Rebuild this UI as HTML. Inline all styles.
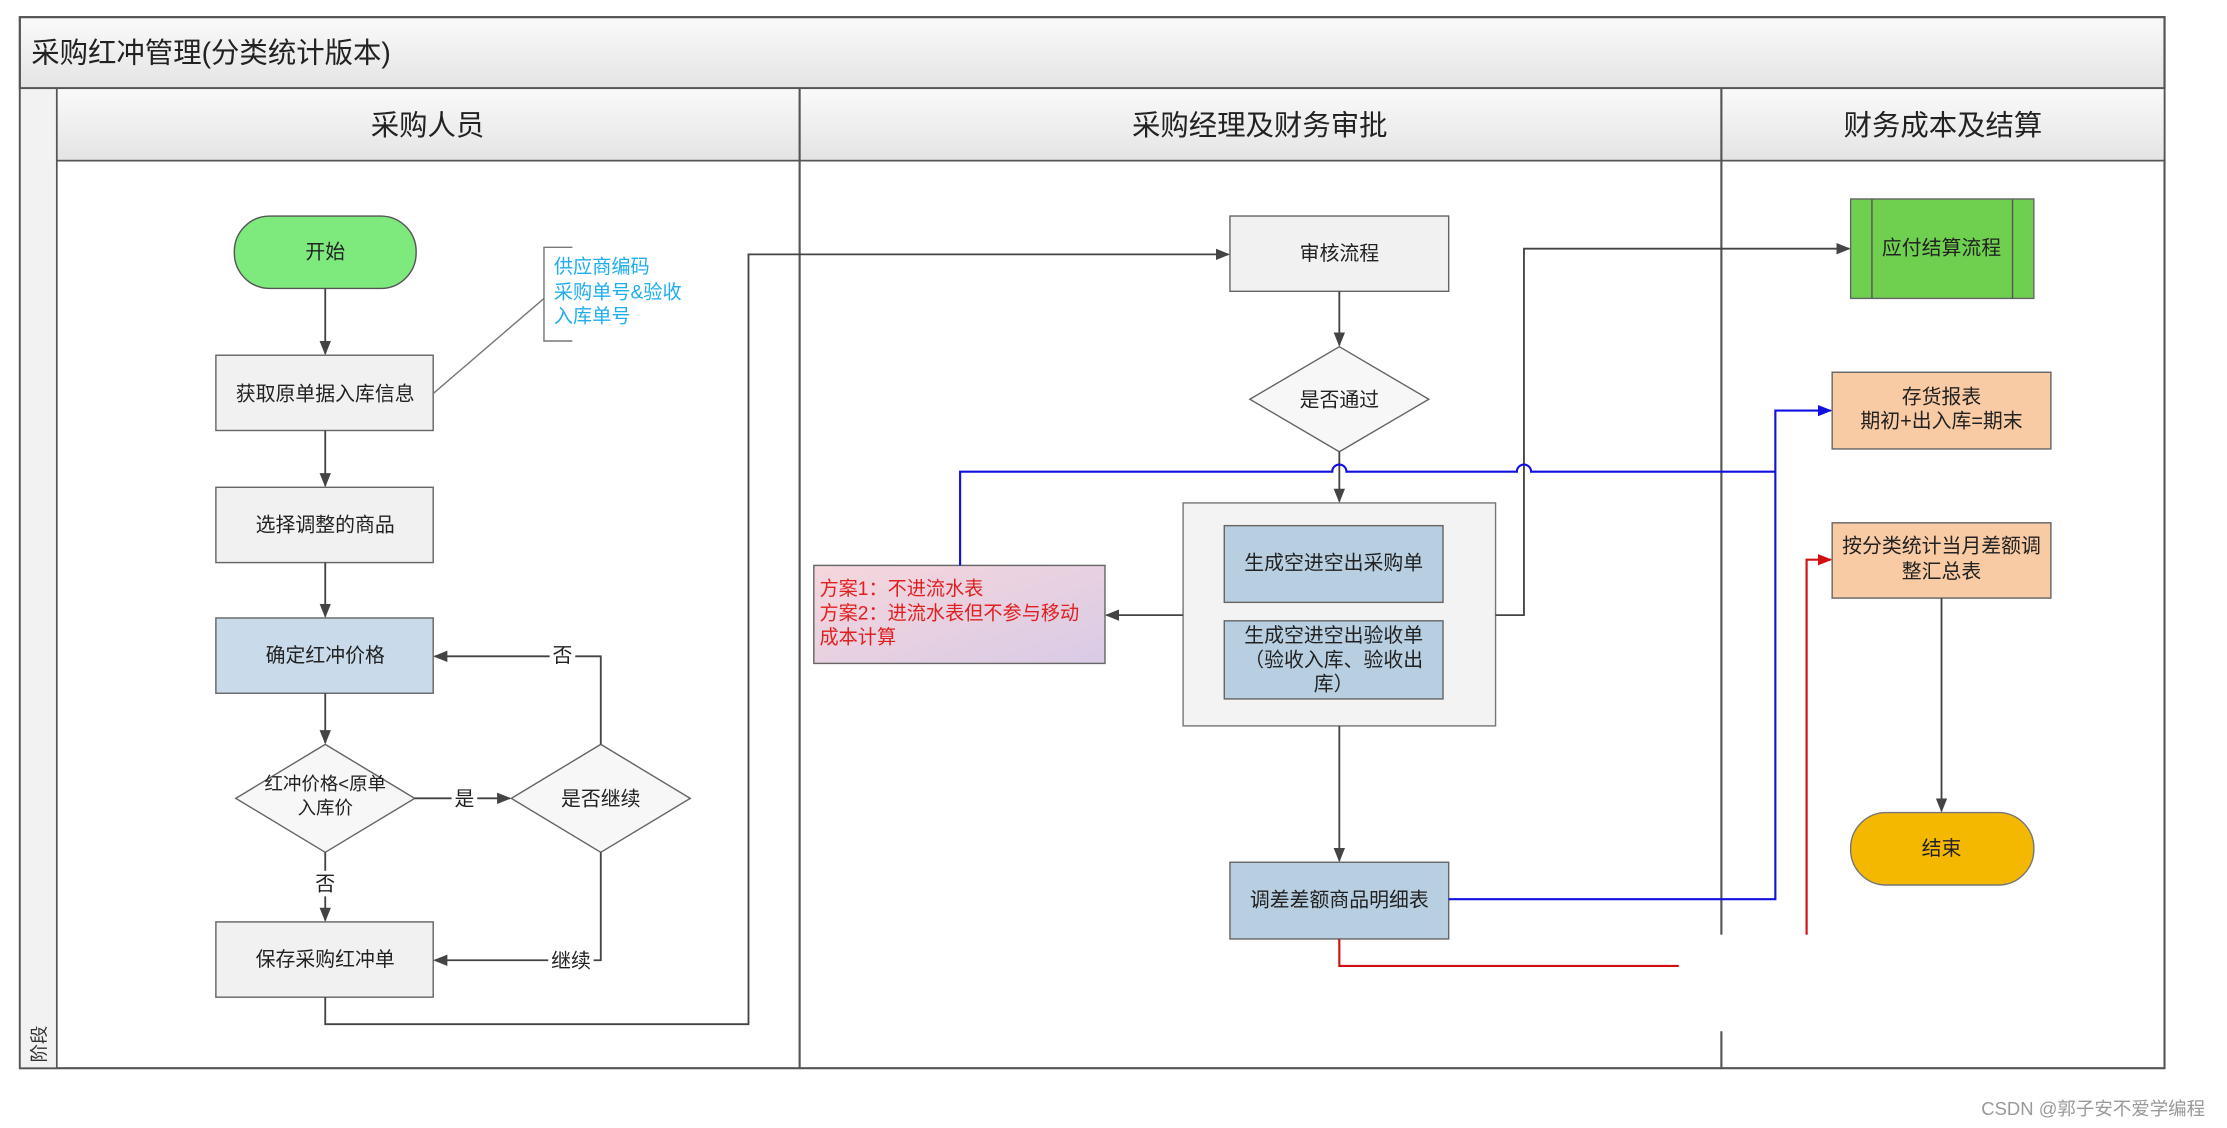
<!DOCTYPE html>
<html><head><meta charset="utf-8"><style>
html,body{margin:0;padding:0;background:#fff;width:2227px;height:1128px;overflow:hidden}
svg{display:block}
text{font-family:"Liberation Sans","Noto Sans CJK SC",sans-serif}
</style></head><body>
<svg width="2227" height="1128" viewBox="0 0 1568 794" xmlns="http://www.w3.org/2000/svg">
<defs>
<marker id="a" markerWidth="10" markerHeight="10" refX="9" refY="5" orient="auto" markerUnits="userSpaceOnUse"><path d="M0,1 L10,5 L0,9 z" fill="#444"/></marker>
<marker id="ab" markerWidth="10" markerHeight="10" refX="9" refY="5" orient="auto" markerUnits="userSpaceOnUse"><path d="M0,1 L10,5 L0,9 z" fill="#1010e0"/></marker>
<marker id="ar" markerWidth="10" markerHeight="10" refX="9" refY="5" orient="auto" markerUnits="userSpaceOnUse"><path d="M0,1 L10,5 L0,9 z" fill="#d01010"/></marker>
<linearGradient id="hg" x1="0" y1="0" x2="0" y2="1"><stop offset="0" stop-color="#fafafa"/><stop offset="1" stop-color="#e4e4e4"/></linearGradient>
<linearGradient id="pg" x1="0" y1="0" x2="1" y2="1"><stop offset="0" stop-color="#f6d6dc"/><stop offset="1" stop-color="#d9cbe6"/></linearGradient>
</defs>
<rect width="1568" height="794" fill="#fff"/>
<!-- frame -->
<rect x="14" y="12" width="1510" height="740" fill="#fff" stroke="#555" stroke-width="1.5"/>
<rect x="14" y="12" width="1510" height="50" fill="url(#hg)" stroke="#555" stroke-width="1.5"/>
<text x="22" y="44" font-size="20" fill="#222">采购红冲管理(分类统计版本)</text>
<rect x="14" y="62" width="26" height="690" fill="#f2f2f2" stroke="#555" stroke-width="1.2"/>
<text transform="translate(32,748) rotate(-90)" font-size="13" fill="#333">阶段</text>
<rect x="40" y="62" width="1484" height="51" fill="url(#hg)" stroke="#555" stroke-width="1.2"/>
<line x1="563" y1="62" x2="563" y2="752" stroke="#555" stroke-width="1.5"/>
<line x1="1212" y1="62" x2="1212" y2="752" stroke="#555" stroke-width="1.5"/>
<text x="301" y="95" font-size="20" fill="#222" text-anchor="middle">采购人员</text>
<text x="887" y="95" font-size="20" fill="#222" text-anchor="middle">采购经理及财务审批</text>
<text x="1368" y="95" font-size="20" fill="#222" text-anchor="middle">财务成本及结算</text>

<g font-size="14" fill="#222" text-anchor="middle">
<!-- left lane -->
<rect x="165" y="152" width="128" height="51" rx="25" fill="#7eea7e" stroke="#555"/>
<text x="229" y="182">开始</text>
<rect x="152" y="250" width="153" height="53" fill="#f1f1f1" stroke="#666"/>
<text x="229" y="282">获取原单据入库信息</text>
<rect x="152" y="343" width="153" height="53" fill="#f1f1f1" stroke="#666"/>
<text x="229" y="374">选择调整的商品</text>
<rect x="152" y="435" width="153" height="53" fill="#c9dbea" stroke="#666"/>
<text x="229" y="466">确定红冲价格</text>
<path d="M166,562 L229,524 L292,562 L229,600 z" fill="#f7f7f7" stroke="#666"/>
<text x="229" y="556" font-size="13">红冲价格&lt;原单</text>
<text x="229" y="573" font-size="13">入库价</text>
<path d="M360,562 L423,524 L486,562 L423,600 z" fill="#f7f7f7" stroke="#666"/>
<text x="423" y="567">是否继续</text>
<rect x="152" y="649" width="153" height="53" fill="#f1f1f1" stroke="#666"/>
<text x="229" y="680">保存采购红冲单</text>

<!-- middle lane -->
<rect x="866" y="152" width="154" height="53" fill="#f1f1f1" stroke="#666"/>
<text x="943" y="183">审核流程</text>
<path d="M880,281 L943,244 L1006,281 L943,318 z" fill="#f7f7f7" stroke="#666"/>
<text x="943" y="286">是否通过</text>
<rect x="833" y="354" width="220" height="157" fill="#f3f3f3" stroke="#777"/>
<rect x="862" y="370" width="154" height="54" fill="#b8cfe2" stroke="#666"/>
<text x="939" y="401">生成空进空出采购单</text>
<rect x="862" y="437" width="154" height="55" fill="#b8cfe2" stroke="#666"/>
<text x="939" y="452">生成空进空出验收单</text>
<text x="939" y="469">（验收入库、验收出</text>
<text x="939" y="486">库）</text>
<rect x="573" y="398" width="205" height="69" fill="url(#pg)" stroke="#666"/>
<g text-anchor="start" fill="#e02020" font-size="13.5">
<text x="577" y="419">方案1：不进流水表</text>
<text x="577" y="436">方案2：进流水表但不参与移动</text>
<text x="577" y="453">成本计算</text>
</g>
<rect x="866" y="607" width="154" height="54" fill="#b8cfe2" stroke="#666"/>
<text x="943" y="638">调差差额商品明细表</text>

<!-- right lane -->
<rect x="1303" y="140" width="129" height="70" fill="#6fd04f" stroke="#666"/>
<line x1="1318" y1="140" x2="1318" y2="210" stroke="#555"/>
<line x1="1417" y1="140" x2="1417" y2="210" stroke="#555"/>
<text x="1367" y="179">应付结算流程</text>
<rect x="1290" y="262" width="154" height="54" fill="#f8cba4" stroke="#666"/>
<text x="1367" y="284">存货报表</text>
<text x="1367" y="301">期初+出入库=期末</text>
<rect x="1290" y="368" width="154" height="53" fill="#f8cba4" stroke="#666"/>
<text x="1367" y="389">按分类统计当月差额调</text>
<text x="1367" y="407">整汇总表</text>
<rect x="1303" y="572" width="129" height="51" rx="25" fill="#f5b800" stroke="#777"/>
<text x="1367" y="602">结束</text>
</g>

<!-- annotation -->
<line x1="305" y1="277" x2="383" y2="210" stroke="#777"/>
<path d="M403,174 L383,174 L383,240 L403,240" fill="none" stroke="#777"/>
<g font-size="13.5" fill="#1eaef0">
<text x="390" y="192">供应商编码</text>
<text x="390" y="210">采购单号&amp;验收</text>
<text x="390" y="227">入库单号</text>
</g>

<!-- connectors -->
<g stroke="#444" stroke-width="1.3" fill="none">
<line x1="229" y1="203" x2="229" y2="249" marker-end="url(#a)"/>
<line x1="229" y1="303" x2="229" y2="342" marker-end="url(#a)"/>
<line x1="229" y1="396" x2="229" y2="434" marker-end="url(#a)"/>
<line x1="229" y1="488" x2="229" y2="523" marker-end="url(#a)"/>
<path d="M229,600 L229,648" marker-end="url(#a)"/>
<path d="M292,562 L359,562" marker-end="url(#a)"/>
<path d="M423,524 L423,462 L306,462" marker-end="url(#a)"/>
<path d="M423,600 L423,676 L306,676" marker-end="url(#a)"/>
<path d="M229,702 L229,721 L527,721 L527,179 L865,179" marker-end="url(#a)"/>
<line x1="943" y1="205" x2="943" y2="243" marker-end="url(#a)"/>
<line x1="943" y1="318" x2="943" y2="353" marker-end="url(#a)"/>
<line x1="833" y1="433" x2="779" y2="433" marker-end="url(#a)"/>
<line x1="943" y1="511" x2="943" y2="606" marker-end="url(#a)"/>
<path d="M1053,433 L1073,433 L1073,175 L1302,175" marker-end="url(#a)"/>
<line x1="1367" y1="421" x2="1367" y2="571" marker-end="url(#a)"/>
</g>
<g stroke="#1010e0" stroke-width="1.5" fill="none">
<path d="M676,398 L676,332 L938,332 A5,5 0 0 1 948,332 L1068,332 A5,5 0 0 1 1078,332 L1250,332"/>
<path d="M1020,633 L1250,633 L1250,289 L1289,289" marker-end="url(#ab)"/>
</g>
<g stroke="#d01010" stroke-width="1.5" fill="none">
<path d="M943,661 L943,680 L1182,680"/>
<path d="M1272,658 L1272,394 L1289,394" marker-end="url(#ar)"/>
</g>
<rect x="1183" y="658" width="88" height="68" fill="#fff"/>

<g font-size="14" fill="#222" text-anchor="middle">
<rect x="318" y="553" width="18" height="18" fill="#fff"/><text x="327" y="567">是</text>
<rect x="220" y="613" width="18" height="18" fill="#fff"/><text x="229" y="627">否</text>
<rect x="387" y="452" width="18" height="18" fill="#fff"/><text x="396" y="466">否</text>
<rect x="386" y="667" width="32" height="18" fill="#fff"/><text x="402" y="681">继续</text>
</g>
<text x="1395" y="785" font-size="13" fill="#999">CSDN @郭子安不爱学编程</text>
</svg>
</body></html>
